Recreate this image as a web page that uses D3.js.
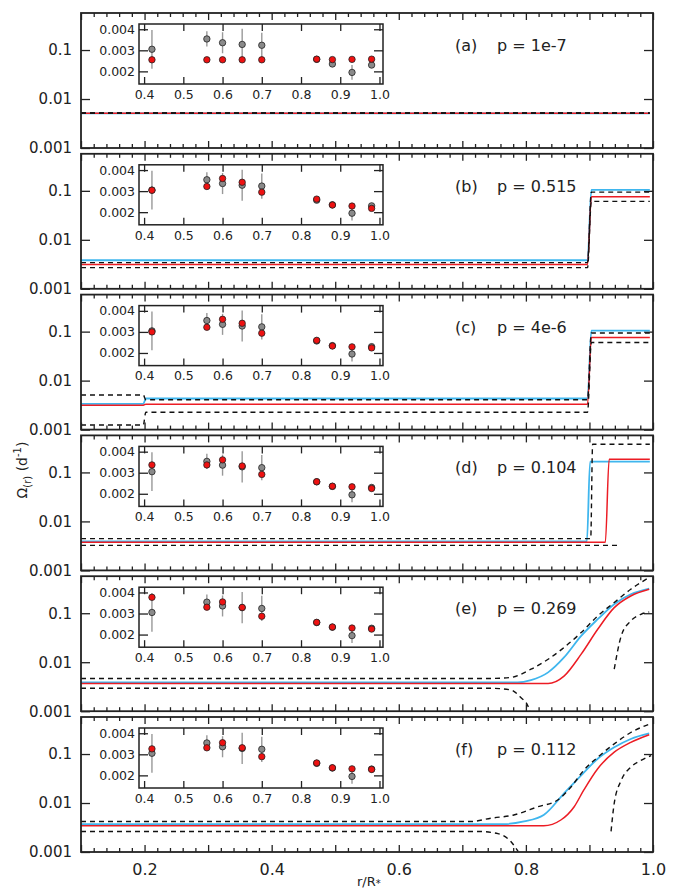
<!DOCTYPE html>
<html>
<head>
<meta charset="utf-8">
<script src="https://cdnjs.cloudflare.com/ajax/libs/d3/7.8.5/d3.min.js"></script>
<style>
body { margin: 0; background: #fff; }
svg text { font-family: "DejaVu Sans", sans-serif; fill: #222; }
.axis path { display: none; }
.axis line { stroke: #222; stroke-width: 1.3; }
</style>
</head>
<body>
<div id="chart"></div>
<script>
// panel captions
var panelTags = ["(a)", "(b)", "(c)", "(d)", "(e)", "(f)"];
var panelP = ["p = 1e-7", "p = 0.515", "p = 4e-6", "p = 0.104", "p = 0.269", "p = 0.112"];

// inset: observed rotation (grey) with errors
var obsR = [0.42, 0.56, 0.60, 0.65, 0.70, 0.84, 0.88, 0.93, 0.98];
var obsW = [0.00305, 0.00354, 0.00336, 0.00328, 0.00324, 0.00257, 0.00235, 0.00195, 0.0023];
var obsErr = [0.00092, 0.00036, 0.0005, 0.00074, 0.0006, 0.0001, 0.00012, 0.00035, 0.0001];

// inset: model values (red) for each panel
var modelA = [0.00255, 0.00255, 0.00255, 0.00255, 0.00255, 0.00258, 0.00256, 0.00257, 0.00258];
var modelB = [0.00304, 0.00322, 0.0036, 0.00342, 0.00295, 0.00262, 0.00234, 0.00229, 0.00218];
var modelC = [0.0030, 0.00322, 0.0036, 0.00341, 0.00294, 0.0026, 0.00233, 0.00229, 0.00224];
var modelD = [0.00337, 0.00337, 0.00361, 0.00332, 0.00292, 0.00257, 0.00236, 0.00233, 0.00225];
var modelE = [0.00377, 0.0033, 0.00355, 0.00329, 0.00287, 0.00258, 0.00236, 0.00231, 0.00226];
var modelF = [0.00326, 0.00331, 0.00355, 0.00331, 0.00289, 0.00259, 0.00236, 0.00231, 0.00228];

// profiles Omega(r): r values and omega values per curve
// (a)
var aR = [0.1, 0.995];
var aBlue = [0.0051, 0.0051];
var aRed = [0.0051, 0.0051];
var aHi = [0.0052, 0.0052];
var aLo = [0.0052, 0.0052];
// (b)
var bR = [0.1, 0.897, 0.903, 0.995];
var bBlue = [0.00383, 0.00383, 0.105, 0.105];
var bRed = [0.00312, 0.00312, 0.076, 0.076];
var bHi = [0.00343, 0.00343, 0.094, 0.094];
var bLo = [0.0027, 0.0027, 0.061, 0.061];
// (c)
var cR = [0.1, 0.198, 0.202, 0.897, 0.903, 0.995];
var cBlue = [0.00336, 0.00336, 0.00431, 0.00431, 0.105, 0.105];
var cRed = [0.00315, 0.00315, 0.00331, 0.00331, 0.076, 0.076];
var cHi = [0.00507, 0.00507, 0.00406, 0.00406, 0.094, 0.094];
var cLo = [0.00124, 0.00124, 0.00226, 0.00226, 0.060, 0.060];
// (d)
var dBlueR = [0.1, 0.896, 0.901, 0.995];
var dBlue = [0.00393, 0.00393, 0.166, 0.166];
var dRedR = [0.1, 0.925, 0.931, 0.995];
var dRed = [0.00374, 0.00374, 0.185, 0.185];
var dHiR = [0.1, 0.902, 0.905, 0.995];
var dHi = [0.00446, 0.00446, 0.377, 0.377];
var dLoR = [0.1, 0.945];
var dLo = [0.00324, 0.00324];
// (e)
var eHiR = [0.1, 0.745, 0.776, 0.808, 0.835, 0.860, 0.887, 0.913, 0.939, 0.965, 0.994];
var eHi = [0.00464, 0.00466, 0.00487, 0.0072, 0.0115, 0.020, 0.0403, 0.088, 0.165, 0.309, 0.536];
var eBlueR = [0.1, 0.787, 0.808, 0.835, 0.860, 0.887, 0.913, 0.939, 0.965, 0.994];
var eBlue = [0.00385, 0.00385, 0.0043, 0.0062, 0.0125, 0.0344, 0.0755, 0.153, 0.244, 0.319];
var eRedR = [0.1, 0.835, 0.860, 0.887, 0.913, 0.939, 0.965, 0.994];
var eRed = [0.00367, 0.00367, 0.0052, 0.0146, 0.047, 0.13, 0.225, 0.309];
var eLoR = [0.1, 0.745, 0.776, 0.792, 0.803, 0.806];
var eLo = [0.00294, 0.00294, 0.00272, 0.0019, 0.00129, 0.001];
var eLo2R = [0.939, 0.95, 0.965, 0.981, 0.994];
var eLo2 = [0.0072, 0.0344, 0.0697, 0.095, 0.106];
// (f)
var fHiR = [0.1, 0.713, 0.745, 0.781, 0.819, 0.850, 0.871, 0.891, 0.913, 0.939, 0.965, 0.997];
var fHi = [0.00419, 0.00419, 0.0049, 0.0057, 0.0084, 0.0115, 0.0213, 0.0464, 0.086, 0.161, 0.275, 0.418];
var fBlueR = [0.1, 0.765, 0.797, 0.828, 0.860, 0.887, 0.913, 0.939, 0.965, 0.994];
var fBlue = [0.00371, 0.00371, 0.0042, 0.0057, 0.0157, 0.0368, 0.08, 0.137, 0.203, 0.263];
var fRedR = [0.1, 0.828, 0.855, 0.876, 0.891, 0.913, 0.939, 0.965, 0.994];
var fRed = [0.00343, 0.00343, 0.0045, 0.0084, 0.0183, 0.0502, 0.109, 0.173, 0.248];
var fLoR = [0.1, 0.724, 0.756, 0.776, 0.788];
var fLo = [0.00263, 0.00263, 0.00237, 0.00165, 0.00102];
var fLo2R = [0.934, 0.939, 0.95, 0.965, 0.981, 0.997];
var fLo2 = [0.00263, 0.0099, 0.029, 0.054, 0.074, 0.093];

// axis ticks
var mainYTicks = [0.001, 0.01, 0.1];
var mainXLabels = [0.2, 0.4, 0.6, 0.8, 1.0];
var insetXTicks = [0.4, 0.5, 0.6, 0.7, 0.8, 0.9, 1.0];
var insetYTicks = [0.002, 0.003, 0.004];

function pairs(r, w) { return r.map(function(v, i) { return [v, w[i]]; }); }

var panels = [
  {model: modelA, curves: [[aR, aBlue, "blue"], [aR, aRed, "red"], [aR, aHi, "dash"], [aR, aLo, "dash"]]},
  {model: modelB, curves: [[bR, bBlue, "blue"], [bR, bRed, "red"], [bR, bHi, "dash"], [bR, bLo, "dash"]]},
  {model: modelC, curves: [[cR, cBlue, "blue"], [cR, cRed, "red"], [cR, cHi, "dash"], [cR, cLo, "dash"]]},
  {model: modelD, curves: [[dBlueR, dBlue, "blue"], [dRedR, dRed, "red"], [dHiR, dHi, "dash"], [dLoR, dLo, "dash"]]},
  {model: modelE, curves: [[eBlueR, eBlue, "blue"], [eRedR, eRed, "red"], [eHiR, eHi, "dash"], [eLoR, eLo, "dash"], [eLo2R, eLo2, "dash"]]},
  {model: modelF, curves: [[fBlueR, fBlue, "blue"], [fRedR, fRed, "red"], [fHiR, fHi, "dash"], [fLoR, fLo, "dash"], [fLo2R, fLo2, "dash"]]}
];

var W = 677, H = 892;
var left = 81, right = 653, panelH = 135, panelStep = 140.8, firstTop = 13;
var insetL = 139, insetR = 383;

var svg = d3.select("#chart").append("svg").attr("width", W).attr("height", H);

var xScale = d3.scaleLinear().domain([0.1, 1.0]).range([left, right]);
var insetX = d3.scaleLinear().domain([0.387, 1.009]).range([insetL, insetR]);

var colors = {blue: "#3fb6ee", red: "#ec1c24", dash: "#111"};
var widths = {blue: 1.8, red: 1.5, dash: 1.4};

var minorTicks = d3.range(0.12, 0.999, 0.02).filter(function(v) { return Math.abs(v * 10 - Math.round(v * 10)) > 0.01; });
var majorTicks = d3.range(0.1, 1.001, 0.1);

panels.forEach(function(p, i) {
  var top = firstTop + i * panelStep, bottom = top + panelH;
  var yScale = d3.scaleLog().domain([0.001, 0.57]).range([bottom, top]);
  var g = svg.append("g");

  g.append("clipPath").attr("id", "clip" + i)
    .append("rect").attr("x", left).attr("y", top).attr("width", right - left).attr("height", panelH);

  // x ticks, top and bottom, inward
  [[minorTicks, 4], [majorTicks, 7]].forEach(function(t) {
    g.append("g").attr("class", "axis").attr("transform", "translate(0," + bottom + ")")
      .call(d3.axisBottom(xScale).tickValues(t[0]).tickSize(-t[1]).tickFormat(""));
    g.append("g").attr("class", "axis").attr("transform", "translate(0," + top + ")")
      .call(d3.axisTop(xScale).tickValues(t[0]).tickSize(-t[1]).tickFormat(""));
  });

  // y ticks
  g.append("g").attr("class", "axis").attr("transform", "translate(" + left + ",0)")
    .call(d3.axisLeft(yScale).tickValues(mainYTicks).tickSize(-9).tickPadding(9).tickFormat(d3.format("")))
    .selectAll("text").style("font-size", "15px");
  g.append("g").attr("class", "axis").attr("transform", "translate(" + right + ",0)")
    .call(d3.axisRight(yScale).tickValues(mainYTicks).tickSize(-9).tickFormat(""));

  // profiles
  var line = d3.line()
    .x(function(d) { return xScale(d[0]); })
    .y(function(d) { return yScale(d[1]); })
    .curve(d3.curveMonotoneX);
  var order = {blue: 0, red: 1, dash: 2};
  var curves = p.curves.slice().sort(function(a, b) { return order[a[2]] - order[b[2]]; });
  g.append("g").attr("clip-path", "url(#clip" + i + ")")
    .selectAll("path").data(curves).enter().append("path")
    .attr("d", function(c) { return line(pairs(c[0], c[1])); })
    .attr("fill", "none")
    .attr("stroke", function(c) { return colors[c[2]]; })
    .attr("stroke-width", function(c) { return widths[c[2]]; })
    .attr("stroke-dasharray", function(c) { return c[2] == "dash" ? "5,4" : null; });

  // frame
  g.append("rect").attr("x", left).attr("y", top).attr("width", right - left).attr("height", panelH)
    .attr("fill", "none").attr("stroke", "#222").attr("stroke-width", 1.8);

  // caption
  g.append("text").attr("x", 455).attr("y", top + 38).style("font-size", "16px").text(panelTags[i]);
  g.append("text").attr("x", 497).attr("y", top + 38).style("font-size", "16px").text(panelP[i]);

  // inset
  var iTop = top + 11, iBottom = top + 71;
  var insetY = d3.scaleLinear().domain([0.0014, 0.00425]).range([iBottom, iTop]);
  var ig = g.append("g");
  ig.append("rect").attr("x", insetL).attr("y", iTop).attr("width", insetR - insetL).attr("height", iBottom - iTop)
    .attr("fill", "#fff").attr("stroke", "#222").attr("stroke-width", 1.5);
  ig.append("g").attr("class", "axis").attr("transform", "translate(0," + iBottom + ")")
    .call(d3.axisBottom(insetX).tickValues(insetXTicks).tickSize(-7).tickPadding(6).tickFormat(d3.format(".1f")))
    .selectAll("text").style("font-size", "12.5px");
  ig.append("g").attr("class", "axis").attr("transform", "translate(0," + iTop + ")")
    .call(d3.axisTop(insetX).tickValues(insetXTicks).tickSize(-7).tickFormat(""));
  ig.append("g").attr("class", "axis").attr("transform", "translate(" + insetL + ",0)")
    .call(d3.axisLeft(insetY).tickValues(insetYTicks).tickSize(-9).tickPadding(4).tickFormat(d3.format(".3f")))
    .selectAll("text").style("font-size", "12.5px");
  ig.append("g").attr("class", "axis").attr("transform", "translate(" + insetR + ",0)")
    .call(d3.axisRight(insetY).tickValues(insetYTicks).tickSize(-9).tickFormat(""));

  // error bars
  ig.selectAll(".err").data(obsR).enter().append("line")
    .attr("x1", function(d) { return insetX(d); })
    .attr("x2", function(d) { return insetX(d); })
    .attr("y1", function(d, k) { return insetY(obsW[k] - obsErr[k]); })
    .attr("y2", function(d, k) { return insetY(obsW[k] + obsErr[k]); })
    .attr("stroke", "#999").attr("stroke-width", 1.4);
  ig.selectAll(".obs").data(obsR).enter().append("circle")
    .attr("cx", function(d) { return insetX(d); })
    .attr("cy", function(d, k) { return insetY(obsW[k]); })
    .attr("r", 3.2).attr("fill", "#8a8a8a").attr("stroke", "#222").attr("stroke-width", 0.8);
  ig.selectAll(".mod").data(obsR).enter().append("circle")
    .attr("cx", function(d) { return insetX(d); })
    .attr("cy", function(d, k) { return insetY(p.model[k]); })
    .attr("r", 3.2).attr("fill", "#ee1111").attr("stroke", "#222").attr("stroke-width", 0.8);

  if (i == panels.length - 1) {
    g.append("g").attr("class", "axis").attr("transform", "translate(0," + bottom + ")")
      .call(d3.axisBottom(xScale).tickValues(mainXLabels).tickSize(0).tickPadding(12).tickFormat(d3.format(".1f")))
      .selectAll("text").style("font-size", "16px");
  }
});

// axis titles
svg.append("text").attr("x", 357).attr("y", 886).style("font-size", "13px")
  .text("r/R").append("tspan").attr("dy", 1).style("font-size", "10px").text("*");

var yt = svg.append("text").attr("transform", "translate(27,470) rotate(-90)")
  .attr("text-anchor", "middle").style("font-size", "14px");
yt.append("tspan").text("\u03A9");
yt.append("tspan").attr("dy", 4).style("font-size", "10px").text("(r)");
yt.append("tspan").attr("dy", -4).text(" (d");
yt.append("tspan").attr("dy", -6).style("font-size", "10px").text("-1");
yt.append("tspan").attr("dy", 6).text(")");
</script>
</body>
</html>
